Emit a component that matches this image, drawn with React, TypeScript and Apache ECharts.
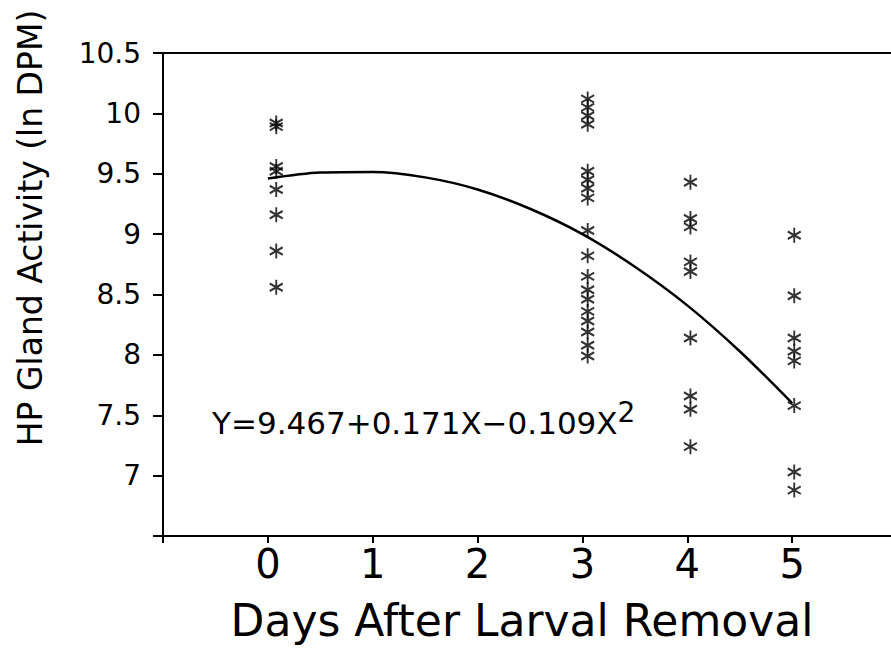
import React, { useEffect, useRef } from "react";
import * as echarts from "echarts";

// x positions of each day's column of points
const dayX = [0.08, 3.05, 4.03, 5.02];
// HP gland activity values (ln DPM)
const day0Values = [9.92, 9.89, 9.56, 9.52, 9.37, 9.16, 8.86, 8.56];
const day3Values = [10.12, 10.05, 9.98, 9.91, 9.52, 9.45, 9.38, 9.3, 9.03, 8.82, 8.65, 8.54, 8.46, 8.36, 8.28, 8.19, 8.08, 7.99];
const day4Values = [9.43, 9.13, 9.06, 8.77, 8.69, 8.14, 7.66, 7.55, 7.24];
const day5Values = [8.99, 8.49, 8.14, 8.03, 7.95, 7.58, 7.03, 6.88];
// fitted curve
const curveX = [0, 0.5, 1, 1.5, 2, 2.5, 3, 3.5, 4, 4.5, 5];
const curveY = [9.46, 9.51, 9.515, 9.47, 9.37, 9.21, 9.0, 8.73, 8.41, 8.03, 7.6];
// tick labels
const xTickLabels = ["0", "1", "2", "3", "4", "5"];
const yTickLabels = ["7", "7.5", "8", "8.5", "9", "9.5", "10", "10.5"];

const xTitle = "Days After Larval Removal";
const yTitle = "HP Gland Activity (ln DPM)";
const equationMain = "Y=9.467+0.171X\u22120.109X";
const equationSup = "2";

const FONT = "DejaVu Sans";
const STAR = "path://M6,0 L6,14 M0,3.5 L12,10.5 M0,10.5 L12,3.5";

export default function App() {
  const ref = useRef<HTMLDivElement>(null);
  useEffect(() => {
    if (!ref.current) return;
    const chart = echarts.init(ref.current, undefined, { renderer: "svg" });
    const allDays = [day0Values, day3Values, day4Values, day5Values];
    const points: number[][] = [];
    allDays.forEach((vals, i) => vals.forEach((v) => points.push([dayX[i], v])));
    const fmt = (v: number) => {
      const s = String(v);
      return yTickLabels.includes(s) ? s : "";
    };
    chart.setOption({
      animation: false,
      backgroundColor: "#fff",
      grid: { left: 163, right: 1, top: 53, bottom: 114, containLabel: false },
      xAxis: [
        {
          type: "value",
          min: -1,
          max: 6,
          interval: 1,
          position: "bottom",
          axisLine: { onZero: false, lineStyle: { color: "#000", width: 2 } },
          axisTick: { length: 7, lineStyle: { color: "#000", width: 2 } },
          splitLine: { show: false },
          axisLabel: {
            formatter: (v: number) => (xTickLabels.includes(String(v)) ? String(v) : ""),
            fontSize: 40,
            color: "#000",
            fontFamily: FONT,
            margin: 8,
          },
          name: xTitle,
          nameLocation: "middle",
          nameGap: 62,
          nameTextStyle: { fontSize: 44, color: "#000", fontFamily: FONT, padding: [0, 16, 0, 0] },
        },
        {
          type: "value",
          min: -1,
          max: 6,
          interval: 1,
          position: "top",
          axisLine: { onZero: false, lineStyle: { color: "#000", width: 2 } },
          axisTick: { show: false },
          axisLabel: { show: false },
          splitLine: { show: false },
        },
      ],
      yAxis: {
        type: "value",
        min: 6.5,
        max: 10.5,
        interval: 0.5,
        axisLine: { onZero: false, lineStyle: { color: "#000", width: 2 } },
        axisTick: { length: 10, lineStyle: { color: "#000", width: 2 } },
        splitLine: { show: false },
        axisLabel: { formatter: fmt, fontSize: 28, color: "#000", fontFamily: FONT, margin: 22 },
      },
      graphic: [
        {
          type: "text",
          x: 30,
          y: 228,
          rotation: Math.PI / 2,
          style: {
            text: yTitle,
            font: `33px '${FONT}'`,
            fill: "#000",
            align: "center",
            verticalAlign: "middle",
          },
        },
        {
          type: "text",
          x: 212,
          y: 418,
          style: {
            text: `{m|${equationMain}}{s|${equationSup}}`,
            fill: "#000",
            verticalAlign: "middle",
            rich: {
              m: { fontSize: 31, fontFamily: FONT, fill: "#000", lineHeight: 40, verticalAlign: "bottom" },
              s: { fontSize: 28, fontFamily: FONT, fill: "#000", lineHeight: 40, verticalAlign: "top", padding: [0, 0, 14, 0] },
            },
          },
        },
      ],
      series: [
        {
          type: "line",
          xAxisIndex: 0,
          data: curveX.map((x, i) => [x, curveY[i]]),
          smooth: 0.3,
          symbol: "none",
          lineStyle: { color: "#000", width: 2.5 },
          z: 3,
        },
        {
          type: "scatter",
          xAxisIndex: 0,
          data: points,
          symbol: STAR,
          symbolSize: [13, 15],
          itemStyle: { color: "rgba(0,0,0,0)", borderColor: "#000", borderWidth: 2 },
          z: 4,
        },
      ],
    });
    return () => chart.dispose();
  }, []);
  return (
    <div style={{ position: "fixed", left: 0, top: 0, width: 891, height: 650, overflow: "hidden", background: "#fff" }}>
      <div ref={ref} style={{ width: 900, height: 650 }} />
    </div>
  );
}
